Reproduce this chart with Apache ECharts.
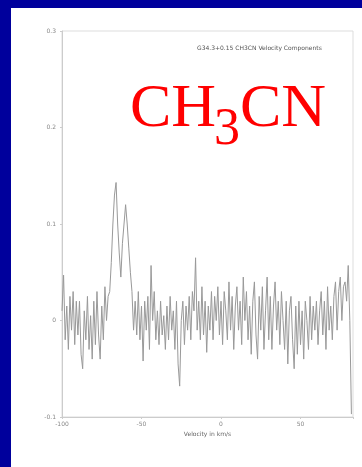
<!DOCTYPE html>
<html><head><meta charset="utf-8">
<script src="https://cdn.jsdelivr.net/npm/echarts@6/dist/echarts.min.js"></script>
<style>html,body{margin:0;padding:0;background:#00009c;}#c{width:362px;height:467px;}</style>
</head><body><div id="c"></div>
<script>
const velocityStart = -100; // km/s, channel step 1 km/s
const intensity = [
 0.01, 0.047, -0.02, 0.015, -0.03, 0.025, -0.01, 0.03, -0.025, 0.02,
 -0.015, 0.02, -0.035, -0.05, 0.01, -0.02, 0.025, -0.03, 0.005, -0.04,
 0.02, -0.025, 0.03, -0.015, -0.04, 0.015, -0.02, 0.035, 0.0, 0.025,
 0.03, 0.06, 0.1, 0.13, 0.143, 0.1, 0.07, 0.045, 0.08, 0.1,
 0.12, 0.1, 0.075, 0.05, 0.03, -0.01, 0.02, -0.015, 0.03, -0.02,
 0.015, -0.042, 0.02, -0.01, 0.025, -0.03, 0.057, 0.0, 0.03, -0.02,
 0.01, -0.025, 0.02, -0.015, 0.005, -0.03, 0.015, -0.02, 0.025, -0.01,
 0.01, -0.03, 0.02, -0.045, -0.068, 0.0, 0.02, -0.025, 0.015, -0.01,
 0.025, -0.02, 0.03, 0.01, 0.065, -0.01, 0.02, -0.02, 0.035, -0.015,
 0.02, -0.033, 0.015, -0.01, 0.03, -0.02, 0.025, 0.0, 0.035, -0.015,
 0.02, -0.025, 0.03, 0.01, -0.02, 0.04, -0.01, 0.025, -0.03, 0.015,
 0.035, -0.01, 0.02, -0.025, 0.045, 0.0, 0.03, -0.02, 0.015, -0.035,
 0.02, 0.04, -0.015, -0.04, 0.025, -0.01, 0.035, -0.03, 0.01, 0.045,
 -0.02, 0.025, -0.03, 0.015, 0.04, -0.01, 0.02, -0.025, 0.03, 0.0,
 -0.03, 0.02, -0.045, 0.01, 0.025, -0.02, -0.05, 0.015, -0.035, 0.02,
 -0.025, 0.01, -0.04, 0.02, 0.0, -0.03, 0.025, -0.02, 0.015, -0.01,
 0.02, -0.025, 0.01, 0.03, -0.015, 0.02, -0.03, 0.035, -0.01, 0.015,
 -0.02, 0.025, 0.04, -0.01, 0.03, 0.045, 0.0, 0.035, 0.04, 0.02,
 0.057, 0.0, -0.097
];
const xTicks = [-100, -50, 0, 50];
const yTicks = [-0.1, 0, 0.1, 0.2, 0.3];
const plotTitle = 'G34.3+0.15 CH3CN Velocity Components';
const xName = 'Velocity in km/s';

const data = intensity.map((v, i) => [velocityStart + i, v]);
const chart = echarts.init(document.getElementById('c'), null, {renderer: 'canvas'});
chart.setOption({
  backgroundColor: '#00009c',
  animation: false,
  graphic: [
    {type: 'rect', z: -10, shape: {x: 11, y: 8, width: 351, height: 459}, style: {fill: '#ffffff'}},
    {type: 'text', left: 197, top: 45, z: 5, style: {text: plotTitle, font: '6px "DejaVu Sans"', fill: '#555'}},
    {type: 'text', z: 10, style: {x: 130, y: 141, text: 'CH', font: '62px "Liberation Serif"', fill: '#ff0000', verticalAlign: 'bottom'}},
    {type: 'text', z: 10, style: {x: 214, y: 156, text: '3', font: '52px "Liberation Serif"', fill: '#ff0000', verticalAlign: 'bottom'}},
    {type: 'text', z: 10, style: {x: 240, y: 141, text: 'CN', font: '62px "Liberation Serif"', fill: '#ff0000', verticalAlign: 'bottom'}}
  ],
  grid: {left: 62, right: 9, top: 31, bottom: 50, show: true, borderColor: '#ddd', borderWidth: 1, backgroundColor: 'transparent'},
  xAxis: {
    type: 'value', min: -100, max: 83, interval: 50,
    name: xName, nameLocation: 'middle', nameGap: 14,
    nameTextStyle: {fontSize: 6, color: '#666', fontFamily: 'DejaVu Sans'},
    axisLine: {onZero: false, lineStyle: {color: '#ccc'}},
    axisTick: {show: true, length: 2, lineStyle: {color: '#ccc'}},
    axisLabel: {fontSize: 6, color: '#888', margin: 4, fontFamily: 'DejaVu Sans',
      customValues: xTicks, formatter: v => String(v)},
    splitLine: {show: false}
  },
  yAxis: {
    type: 'value', min: -0.1, max: 0.3, interval: 0.1,
    axisLine: {show: true, onZero: false, lineStyle: {color: '#ccc'}},
    axisTick: {show: true, length: 2, lineStyle: {color: '#ccc'}},
    axisLabel: {fontSize: 6, color: '#888', margin: 6, fontFamily: 'DejaVu Sans',
      formatter: v => { const r = Math.round(v * 10) / 10; return yTicks.includes(r) ? String(r) : ''; }},
    splitLine: {show: false}
  },
  series: [{
    type: 'line', data: data, showSymbol: false,
    lineStyle: {color: '#999999', width: 1}, z: 3
  }]
});
</script></body></html>
